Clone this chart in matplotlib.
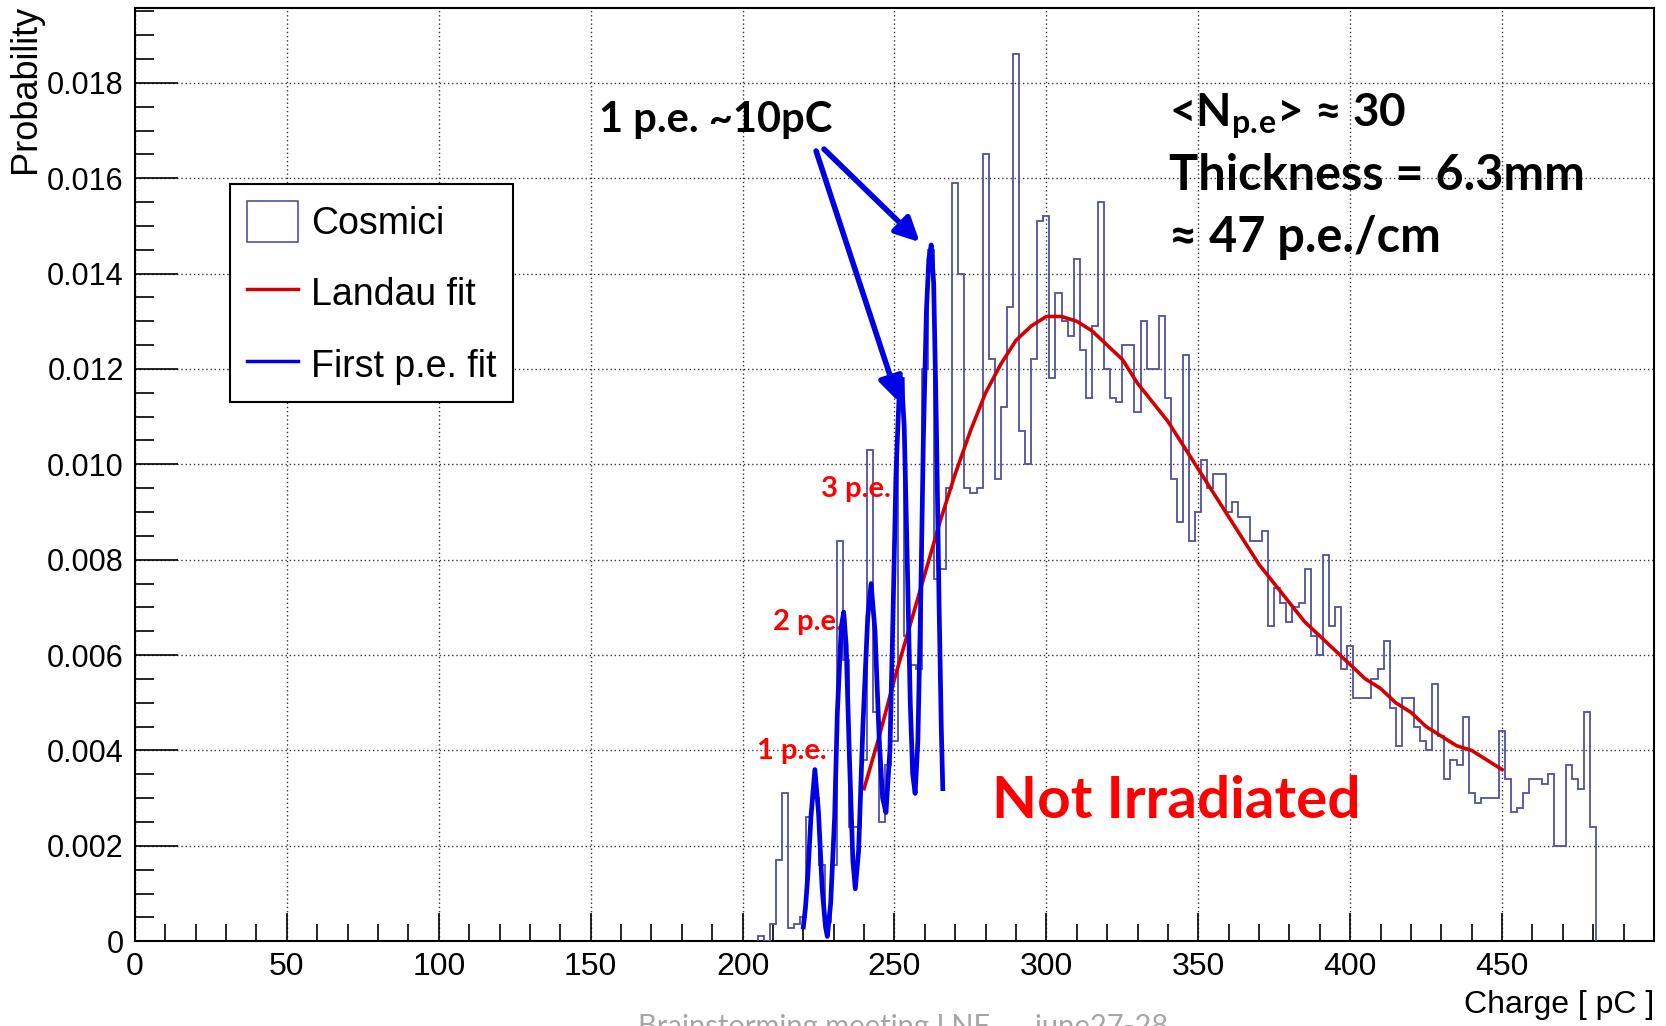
import numpy as np
import matplotlib
matplotlib.use('Agg')
import matplotlib.pyplot as plt
from matplotlib.patches import Patch
from matplotlib.lines import Line2D
from matplotlib.ticker import MultipleLocator, FuncFormatter

plt.rcParams['font.family'] = ['Liberation Sans', 'DejaVu Sans']

# histogram "Cosmici": 2 pC bins, centres from 206 to 480 pC
bin_centers = np.arange(206, 482, 2)
probability = [
    0.0001, 0.0, 0.00037, 0.0017, 0.0031, 0.00027, 0.00037, 0.0005, 0.0026, 0.0030,
    0.0016, 0.0004, 0.0016, 0.0084, 0.0059, 0.0024, 0.0024, 0.0038, 0.0103, 0.0048,
    0.0025, 0.0037, 0.0042, 0.0118, 0.0064, 0.0058, 0.0057, 0.0120, 0.0145, 0.0076,
    0.0078, 0.0095, 0.0159, 0.0140, 0.0095, 0.0094, 0.0095, 0.0165, 0.0122, 0.0097,
    0.0112, 0.0133, 0.0186, 0.0107, 0.0100, 0.0122, 0.0151, 0.0152, 0.0118, 0.0136,
    0.0130, 0.0127, 0.0143, 0.0124, 0.0114, 0.0129, 0.0155, 0.0120, 0.0114, 0.0113,
    0.0125, 0.0125, 0.0111, 0.0130, 0.0120, 0.0120, 0.0131, 0.0114, 0.0097, 0.0088,
    0.0123, 0.0084, 0.0090, 0.0101, 0.0095, 0.0098, 0.0098, 0.0090, 0.0092, 0.0089,
    0.0089, 0.0084, 0.0084, 0.0086, 0.0066, 0.0074, 0.0071, 0.0067, 0.0070, 0.0071,
    0.0078, 0.0064, 0.0060, 0.0081, 0.0066, 0.0070, 0.0057, 0.0062, 0.0051, 0.0051,
    0.0051, 0.0055, 0.0057, 0.0063, 0.0049, 0.0041, 0.0051, 0.0051, 0.0045, 0.0042,
    0.0040, 0.0054, 0.0043, 0.0034, 0.0038, 0.0037, 0.0047, 0.0031, 0.0029, 0.0030,
    0.0030, 0.0030, 0.0044, 0.0034, 0.0027, 0.0028, 0.0031, 0.0034, 0.0034, 0.0033,
    0.0035, 0.0020, 0.0020, 0.0037, 0.0034, 0.0032, 0.0048, 0.0024,
]

# Landau fit
landau_q = [240, 245, 250, 255, 260, 265, 270, 275, 280, 285, 290, 295, 300, 305,
            310, 315, 320, 325, 330, 335, 340, 345, 350, 355, 360, 365, 370, 375,
            380, 385, 390, 395, 400, 405, 410, 415, 420, 425, 430, 435, 440, 445, 450]
landau_p = [0.0032, 0.0043, 0.0055, 0.0066, 0.0077, 0.0088, 0.0098, 0.0107, 0.0115,
            0.0121, 0.0126, 0.0129, 0.0131, 0.0131, 0.0130, 0.0128, 0.0125, 0.0122,
            0.0117, 0.0113, 0.0109, 0.0104, 0.0099, 0.0094, 0.0089, 0.0084, 0.0079,
            0.0075, 0.0071, 0.0067, 0.0064, 0.0061, 0.0058, 0.0055, 0.0053, 0.0050,
            0.0048, 0.0045, 0.0043, 0.0041, 0.0040, 0.0038, 0.0036]

# first p.e. fit (multi-peak)
pe_q = [220, 220.7, 221.5, 222.5, 223.8, 225.0, 226.2, 227.3, 227.9, 229.0, 230.3,
        231.2, 232.5, 233.3, 234.1, 235.2, 236.3, 237.1, 238.2, 239.6, 241.2, 242.3,
        243.6, 245.0, 246.1, 247.2, 248.5, 249.5, 250.5, 251.5, 252.3, 253.2, 254.2,
        255.2, 256.0, 256.8, 257.7, 258.6, 259.5, 260.5, 261.3, 262.1, 262.9, 263.8,
        264.7, 265.4, 265.9]
pe_p = [0.0003, 0.0007, 0.0014, 0.0026, 0.0036, 0.0027, 0.0011, 0.0003, 0.0001,
        0.0008, 0.0026, 0.0048, 0.0066, 0.0069, 0.0062, 0.0038, 0.0017, 0.0011,
        0.0019, 0.0045, 0.0068, 0.0075, 0.0065, 0.0042, 0.0030, 0.0027, 0.0040,
        0.0068, 0.0098, 0.0114, 0.0118, 0.0108, 0.0080, 0.0050, 0.0035, 0.0031,
        0.0042, 0.0070, 0.0105, 0.0132, 0.0143, 0.0146, 0.0138, 0.0108, 0.0070,
        0.0045, 0.0032]

hist_color = '#5050a2'
fit_red = '#d40000'
fit_blue = '#0000e6'

fig = plt.figure(figsize=(16.66, 10.26), dpi=100)
ax = fig.add_axes([0.0810, 0.0826, 0.9118, 0.9092])

edges = np.append(bin_centers - 1, bin_centers[-1] + 1)
ax.stairs(probability, edges, color=hist_color, lw=1.3, zorder=3)
ax.plot(landau_q, landau_p, color=fit_red, lw=2.6, zorder=4)
ax.plot(pe_q, pe_p, color=fit_blue, lw=3.4, zorder=5)

ax.set_xlim(0, 500)
ax.set_ylim(0, 0.01956)
ax.xaxis.set_major_locator(MultipleLocator(50))
ax.xaxis.set_minor_locator(MultipleLocator(10))
ax.yaxis.set_major_locator(MultipleLocator(0.002))
ax.yaxis.set_minor_locator(MultipleLocator(0.0005))
ax.xaxis.set_major_formatter(FuncFormatter(lambda v, p: '' if v > 460 else '%d' % v))
ax.yaxis.set_major_formatter(FuncFormatter(lambda v, p: '0' if v == 0 else '%.3f' % v))
ax.tick_params(axis='x', which='major', direction='in', length=20, width=1.2,
               labelsize=23, pad=8, top=False)
ax.tick_params(axis='x', which='minor', direction='in', length=12, width=1.2, top=False)
ax.tick_params(axis='y', which='major', direction='in', length=31, width=1.2,
               labelsize=22, pad=8, right=False)
ax.tick_params(axis='y', which='minor', direction='in', length=14, width=1.2, right=False)
ax.grid(True, which='major', color='#333333', linestyle=(0, (1, 2)), lw=1.0)
for s in ax.spines.values():
    s.set_linewidth(1.5)

fig.text(26 / 1666, 1 - 5 / 1026, 'Probability', rotation=90, ha='center', va='top',
         fontsize=26)
fig.text(1654 / 1666, 1 - 1005 / 1026, 'Charge [ pC ]', ha='right', va='center',
         fontsize=23)

handles = [Patch(facecolor='none', edgecolor=hist_color, lw=1.2),
           Line2D([], [], color=fit_red, lw=2.5),
           Line2D([], [], color=fit_blue, lw=2.5)]
leg = ax.legend(handles, ['Cosmici', 'Landau fit', 'First p.e. fit'],
                loc='upper left', bbox_to_anchor=(0.0629, 0.812), fontsize=27,
                fancybox=False, framealpha=1, edgecolor='black', handlelength=1.35,
                handleheight=1.3, labelspacing=0.82, borderpad=0.45,
                handletextpad=0.35, borderaxespad=0)
leg.get_frame().set_linewidth(1.5)
leg.set_zorder(10)

bold = dict(family=['Lato', 'DejaVu Sans'], fontweight='bold')
ax.annotate('', xy=(251.4, 0.01131), xytext=(224.2, 0.01657),
            arrowprops=dict(arrowstyle='-|>', color=fit_blue, lw=4, mutation_scale=36,
                            shrinkA=0, shrinkB=0), zorder=8)
ax.annotate('', xy=(258.3, 0.01466), xytext=(226.8, 0.01661),
            arrowprops=dict(arrowstyle='-|>', color=fit_blue, lw=4, mutation_scale=36,
                            shrinkA=0, shrinkB=0), zorder=8)
ax.text(191, 0.01722, '1 p.e. ~10pC', ha='center', va='center', fontsize=30,
        color='black', **bold)
ax.text(340.3, 0.01732, '<N$_\\mathdefault{p.\\!e}$> \u2248 30', ha='left', va='center',
        fontsize=33, color='black', **bold)
ax.text(340.3, 0.01605, 'Thickness = 6.3mm', ha='left', va='center', fontsize=35,
        color='black', **bold)
ax.text(340.3, 0.01475, '\u2248 47 p.e./cm', ha='left', va='center', fontsize=35,
        color='black', **bold)
ax.text(237.3, 0.00948, '3 p.e.', ha='center', va='center', fontsize=21,
        color='#ff0000', **bold)
ax.text(221.5, 0.00669, '2 p.e.', ha='center', va='center', fontsize=21,
        color='#ff0000', **bold)
ax.text(216.3, 0.00399, '1 p.e.', ha='center', va='center', fontsize=21,
        color='#ff0000', **bold)
ax.text(342.6, 0.00292, 'Not Irradiated', ha='center', va='center', fontsize=42,
        color='#ff0000', **bold)

fig.text(0.542, 1 - 1014 / 1026, 'Brainstorming meeting LNF      june27-28',
         ha='center', va='top', fontsize=21, color='#a6a6a6',
         family=['Lato', 'DejaVu Sans'])

fig.savefig('out.png', dpi=100)
